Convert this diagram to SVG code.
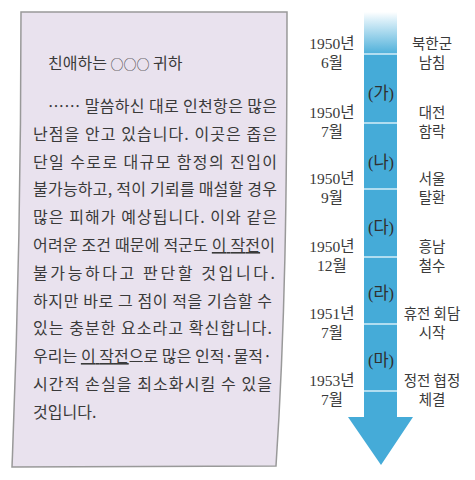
<svg xmlns="http://www.w3.org/2000/svg" width="475" height="480" viewBox="0 0 475 480">
<defs>
<linearGradient id="fade" x1="0" y1="0" x2="0" y2="1">
<stop offset="0" stop-color="#ffffff"/>
<stop offset="0.2" stop-color="#d8eef8"/>
<stop offset="1" stop-color="#4aaed9"/>
</linearGradient>
<style>
.paper{fill:#e9e2ee;stroke:#999999;stroke-width:1.5}
.lt{font-family:"Noto Sans CJK KR","Noto Sans",sans-serif;font-size:16px;fill:#3a3a3a}
.u{text-decoration:underline}
.sm{font-size:13px}
.dt{font-family:"Liberation Serif","Noto Sans CJK KR",serif;font-size:15.5px;fill:#3a3a3a;text-anchor:middle}
.ev{font-family:"Noto Sans CJK KR","Noto Sans",sans-serif;font-size:14.5px;fill:#3a3a3a;text-anchor:middle}
.pl{font-family:"Liberation Serif","Noto Sans CJK KR",serif;font-size:16.5px;fill:#2f2f2f;text-anchor:middle}
.sep{stroke:#d6eef9;stroke-width:1.5}
</style>
</defs>
<rect width="475" height="480" fill="#ffffff"/>

<g id="letter">
<path class="paper" d="M21,12 L287,12 C287,200 285,330 276,466 L12,467 C15,390 21,250 21,12 Z"/>
<text class="lt" x="48" y="69">친애하는 <tspan class="sm">○○○</tspan> 귀하</text>
<text class="lt" x="48" y="112" textLength="229" lengthAdjust="spacing">…… 말씀하신 대로 인천항은 많은</text>
<text class="lt" x="33" y="140" textLength="244" lengthAdjust="spacing">난점을 안고 있습니다. 이곳은 좁은</text>
<text class="lt" x="33" y="168" textLength="244" lengthAdjust="spacing">단일 수로로 대규모 함정의 진입이</text>
<text class="lt" x="33" y="195" textLength="244" lengthAdjust="spacing">불가능하고, 적이 기뢰를 매설할 경우</text>
<text class="lt" x="33" y="223" textLength="244" lengthAdjust="spacing">많은 피해가 예상됩니다. 이와 같은</text>
<text class="lt" x="33" y="251" textLength="242" lengthAdjust="spacing">어려운 조건 때문에 적군도 <tspan class="u">이 작전</tspan>이</text>
<text class="lt" x="33" y="279" textLength="242" lengthAdjust="spacing">불가능하다고  판단할  것입니다.</text>
<text class="lt" x="33" y="307" textLength="239" lengthAdjust="spacing">하지만 바로 그 점이 적을 기습할 수</text>
<text class="lt" x="33" y="334" textLength="239" lengthAdjust="spacing">있는 충분한 요소라고 확신합니다.</text>
<text class="lt" x="33" y="362" textLength="239" lengthAdjust="spacing">우리는 <tspan class="u">이 작전</tspan>으로 많은 인적·물적·</text>
<text class="lt" x="33" y="390" textLength="239" lengthAdjust="spacing">시간적 손실을 최소화시킬 수 있을</text>
<text class="lt" x="33" y="418">것입니다.</text>
</g>

<g id="connectors">
<rect x="364" y="12" width="33" height="43" fill="url(#fade)"/>
<path d="M364,54 H397 V417 H413 L381,465 L348,417 H364 Z" fill="#45abd8"/>
<line class="sep" x1="364" y1="54" x2="397" y2="54"/>
<line class="sep" x1="364" y1="123" x2="397" y2="123"/>
<line class="sep" x1="364" y1="189" x2="397" y2="189"/>
<line class="sep" x1="364" y1="257" x2="397" y2="257"/>
<line class="sep" x1="364" y1="324" x2="397" y2="324"/>
<line class="sep" x1="364" y1="391" x2="397" y2="391"/>
</g>

<g id="periods">
<text class="pl" x="381" y="99">(가)</text>
<text class="pl" x="381" y="168">(나)</text>
<text class="pl" x="381" y="233">(다)</text>
<text class="pl" x="381" y="299">(라)</text>
<text class="pl" x="381" y="366">(마)</text>
</g>

<g id="event1">
<text class="dt" x="332" y="49">1950년</text><text class="dt" x="332" y="68">6월</text>
<text class="ev" x="432" y="49">북한군</text><text class="ev" x="432" y="68">남침</text>
</g>
<g id="event2">
<text class="dt" x="332" y="118">1950년</text><text class="dt" x="332" y="137">7월</text>
<text class="ev" x="432" y="118">대전</text><text class="ev" x="432" y="137">함락</text>
</g>
<g id="event3">
<text class="dt" x="332" y="184">1950년</text><text class="dt" x="332" y="203">9월</text>
<text class="ev" x="432" y="184">서울</text><text class="ev" x="432" y="203">탈환</text>
</g>
<g id="event4">
<text class="dt" x="332" y="252">1950년</text><text class="dt" x="332" y="271">12월</text>
<text class="ev" x="432" y="252">흥남</text><text class="ev" x="432" y="271">철수</text>
</g>
<g id="event5">
<text class="dt" x="332" y="319">1951년</text><text class="dt" x="332" y="338">7월</text>
<text class="ev" x="432" y="319">휴전 회담</text><text class="ev" x="432" y="338">시작</text>
</g>
<g id="event6">
<text class="dt" x="332" y="386">1953년</text><text class="dt" x="332" y="405">7월</text>
<text class="ev" x="432" y="386">정전 협정</text><text class="ev" x="432" y="405">체결</text>
</g>
</svg>
